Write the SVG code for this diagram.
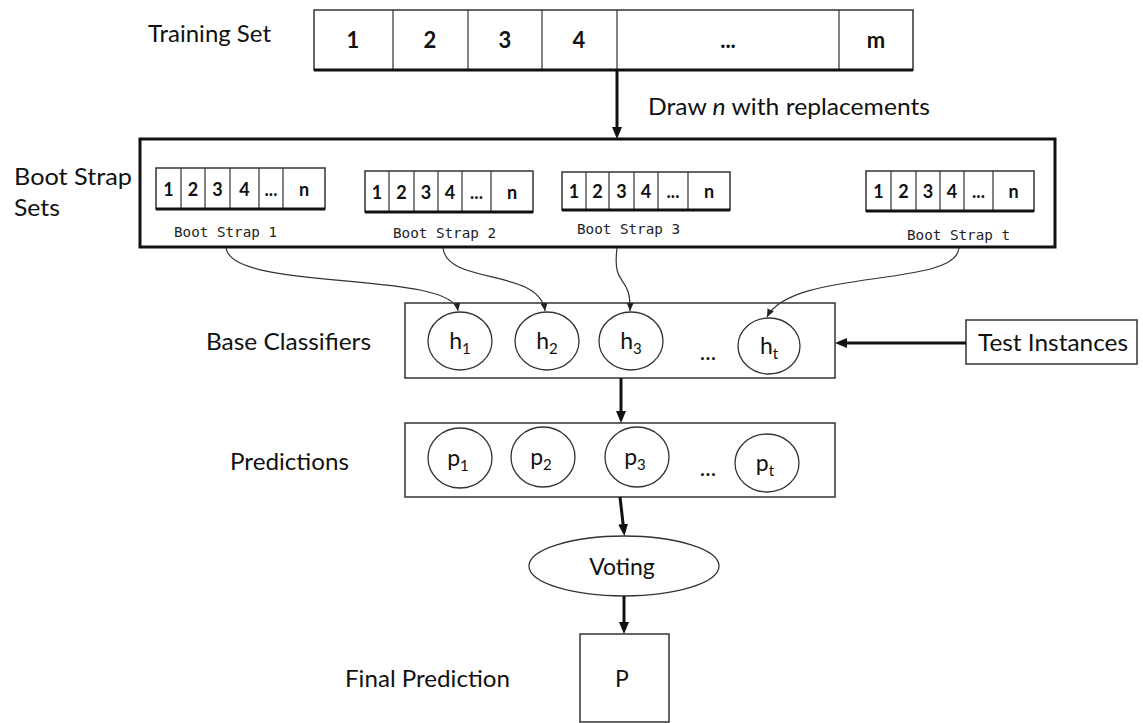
<svg xmlns="http://www.w3.org/2000/svg" width="1143" height="723" viewBox="0 0 1143 723">
  <defs>
    <style>
      .lbl{font-family:Lato,"Liberation Sans",sans-serif;font-size:23px;fill:#111}
      .num{font-family:Lato,"Liberation Sans",sans-serif;font-weight:bold;font-size:22px;fill:#111;text-anchor:middle}
      .snum{font-family:Lato,"Liberation Sans",sans-serif;font-weight:bold;font-size:18px;fill:#111;text-anchor:middle}
      .mono{font-family:"DejaVu Sans Mono","Liberation Mono",monospace;font-size:14px;fill:#222}
      .sym{font-family:Lato,"Liberation Sans",sans-serif;font-size:23px;fill:#111;text-anchor:middle}
      .box{fill:#fff;stroke:#333;stroke-width:1.5}
      .cell{stroke:#333;stroke-width:1.2}
      .edge{stroke:#111;stroke-width:3}
      .thick{stroke:#111;stroke-width:3;fill:none}
      .thin{stroke:#333;stroke-width:1.2;fill:none}
      .node{fill:#fff;stroke:#333;stroke-width:1.3}
    </style>
    <marker id="bigHead" markerUnits="userSpaceOnUse" markerWidth="12" markerHeight="10" refX="8" refY="5" orient="auto">
      <path d="M0,0 L12,5 L0,10 z" fill="#111"/>
    </marker>
    <marker id="smallHead" markerUnits="userSpaceOnUse" markerWidth="8" markerHeight="7" refX="8" refY="3.5" orient="auto">
      <path d="M0,0 L8,3.5 L0,7 z" fill="#222"/>
    </marker>
  </defs>

  <rect width="1143" height="723" fill="#fff"/>

  <!-- row labels -->
  <g id="labels">
    <text class="lbl" x="148" y="42" textLength="123" lengthAdjust="spacingAndGlyphs">Training Set</text>
    <text class="lbl" x="648" y="115" textLength="282" lengthAdjust="spacingAndGlyphs">Draw <tspan font-style="italic">n</tspan> with replacements</text>
    <text class="lbl" x="14" y="185" textLength="118" lengthAdjust="spacingAndGlyphs">Boot Strap</text>
    <text class="lbl" x="14" y="216" textLength="46" lengthAdjust="spacingAndGlyphs">Sets</text>
    <text class="lbl" x="206" y="350" textLength="165" lengthAdjust="spacingAndGlyphs">Base Classifiers</text>
    <text class="lbl" x="230" y="470" textLength="119" lengthAdjust="spacingAndGlyphs">Predictions</text>
    <text class="lbl" x="345" y="687" textLength="165" lengthAdjust="spacingAndGlyphs">Final Prediction</text>
  </g>

  <!-- training set strip -->
  <g id="training-set">
    <rect class="box" x="314" y="10" width="599" height="60"/>
    <path class="cell" d="M393,10V70 M468,10V70 M542,10V70 M617,10V70 M839,10V70"/>
    <line class="edge" x1="314" y1="70" x2="913" y2="70"/>
    <text class="num" x="353" y="48">1</text>
    <text class="num" x="430" y="48">2</text>
    <text class="num" x="505" y="48">3</text>
    <text class="num" x="579" y="48">4</text>
    <text class="num" x="728" y="48">...</text>
    <text class="num" x="876" y="48">m</text>
  </g>

  <!-- bootstrap container -->
  <g id="bootstrap-sets">
    <rect x="140" y="139" width="915" height="108" fill="#fff" stroke="#111" stroke-width="3"/>
  </g>

  <g id="bootstrap-1">
    <rect class="box" x="156" y="168" width="169" height="41"/>
    <path class="cell" d="M181,168V209 M205,168V209 M230,168V209 M259,168V209 M283,168V209"/>
    <line class="edge" x1="156" y1="209" x2="325" y2="209"/>
    <text class="snum" x="168.5" y="196">1</text>
    <text class="snum" x="193" y="196">2</text>
    <text class="snum" x="217.5" y="196">3</text>
    <text class="snum" x="244.5" y="196">4</text>
    <text class="snum" x="271" y="196">...</text>
    <text class="snum" x="304" y="196">n</text>
    <text class="mono" x="174" y="237" textLength="103" lengthAdjust="spacingAndGlyphs">Boot Strap 1</text>
  </g>

  <g id="bootstrap-2">
    <rect class="box" x="365" y="171" width="168" height="41"/>
    <path class="cell" d="M389,171V212 M414,171V212 M438,171V212 M462,171V212 M491,171V212"/>
    <line class="edge" x1="365" y1="212" x2="533" y2="212"/>
    <text class="snum" x="377" y="199">1</text>
    <text class="snum" x="401.5" y="199">2</text>
    <text class="snum" x="426" y="199">3</text>
    <text class="snum" x="450" y="199">4</text>
    <text class="snum" x="476.5" y="199">...</text>
    <text class="snum" x="512" y="199">n</text>
    <text class="mono" x="393" y="238" textLength="103" lengthAdjust="spacingAndGlyphs">Boot Strap 2</text>
  </g>

  <g id="bootstrap-3">
    <rect class="box" x="562" y="172" width="168" height="38"/>
    <path class="cell" d="M586,172V210 M609,172V210 M634,172V210 M658,172V210 M688,172V210"/>
    <line class="edge" x1="562" y1="210" x2="730" y2="210"/>
    <text class="snum" x="574" y="198">1</text>
    <text class="snum" x="597.5" y="198">2</text>
    <text class="snum" x="621.5" y="198">3</text>
    <text class="snum" x="646" y="198">4</text>
    <text class="snum" x="673" y="198">...</text>
    <text class="snum" x="709" y="198">n</text>
    <text class="mono" x="577" y="234" textLength="103" lengthAdjust="spacingAndGlyphs">Boot Strap 3</text>
  </g>

  <g id="bootstrap-t">
    <rect class="box" x="866" y="171" width="168" height="40"/>
    <path class="cell" d="M891,171V211 M916,171V211 M940,171V211 M964,171V211 M993,171V211"/>
    <line class="edge" x1="866" y1="211" x2="1034" y2="211"/>
    <text class="snum" x="878.5" y="198">1</text>
    <text class="snum" x="903.5" y="198">2</text>
    <text class="snum" x="928" y="198">3</text>
    <text class="snum" x="952" y="198">4</text>
    <text class="snum" x="978.5" y="198">...</text>
    <text class="snum" x="1013.5" y="198">n</text>
    <text class="mono" x="907" y="240" textLength="103" lengthAdjust="spacingAndGlyphs">Boot Strap t</text>
  </g>

  <!-- base classifiers -->
  <g id="base-classifiers">
    <rect class="box" x="405" y="303" width="430" height="75"/>
  </g>
  <g id="h1">
    <ellipse class="node" cx="460" cy="341" rx="32" ry="29"/>
    <text class="sym" x="460" y="349">h<tspan font-size="15" dy="5">1</tspan></text>
  </g>
  <g id="h2">
    <ellipse class="node" cx="547" cy="341" rx="32" ry="29"/>
    <text class="sym" x="547" y="349">h<tspan font-size="15" dy="5">2</tspan></text>
  </g>
  <g id="h3">
    <ellipse class="node" cx="631" cy="341" rx="32" ry="29"/>
    <text class="sym" x="631" y="349">h<tspan font-size="15" dy="5">3</tspan></text>
  </g>
  <text class="sym" x="708" y="360">...</text>
  <g id="ht">
    <ellipse class="node" cx="769" cy="346" rx="31" ry="28"/>
    <text class="sym" x="769" y="354">h<tspan font-size="15" dy="5">t</tspan></text>
  </g>

  <g id="test-instances">
    <rect class="box" x="966" y="320" width="171" height="44"/>
    <text class="lbl" x="978" y="351" textLength="150" lengthAdjust="spacingAndGlyphs">Test Instances</text>
  </g>

  <!-- predictions -->
  <g id="predictions">
    <rect class="box" x="405" y="423" width="430" height="74"/>
  </g>
  <g id="p1">
    <ellipse class="node" cx="460" cy="458" rx="32" ry="30"/>
    <text class="sym" x="458" y="466">p<tspan font-size="15" dy="5">1</tspan></text>
  </g>
  <g id="p2">
    <ellipse class="node" cx="543" cy="457" rx="32" ry="30"/>
    <text class="sym" x="541" y="465">p<tspan font-size="15" dy="5">2</tspan></text>
  </g>
  <g id="p3">
    <ellipse class="node" cx="637" cy="457" rx="32" ry="30"/>
    <text class="sym" x="635" y="465">p<tspan font-size="15" dy="5">3</tspan></text>
  </g>
  <text class="sym" x="708" y="476">...</text>
  <g id="pt">
    <ellipse class="node" cx="767" cy="463" rx="32" ry="29"/>
    <text class="sym" x="765" y="471">p<tspan font-size="15" dy="5">t</tspan></text>
  </g>

  <g id="voting">
    <ellipse class="node" cx="624" cy="566" rx="95" ry="30"/>
    <text class="sym" x="622" y="575">Voting</text>
  </g>

  <g id="final-prediction">
    <rect class="box" x="580" y="634" width="89" height="88"/>
    <text class="sym" x="622" y="687">P</text>
  </g>

  <!-- connectors -->
  <g id="connectors">
    <line class="thick" x1="617" y1="70" x2="617" y2="135" marker-end="url(#bigHead)"/>
    <path class="thin" d="M226,248 C232,292 452,270 458,311" marker-end="url(#smallHead)"/>
    <path class="thin" d="M443,248 C447,285 540,268 545,311" marker-end="url(#smallHead)"/>
    <path class="thin" d="M617,248 C612,290 631,272 630,311" marker-end="url(#smallHead)"/>
    <path class="thin" d="M959,248 C956,288 792,268 767,317" marker-end="url(#smallHead)"/>
    <line class="thick" x1="966" y1="343" x2="839" y2="343" marker-end="url(#bigHead)"/>
    <line class="thick" x1="621" y1="378" x2="621" y2="419" marker-end="url(#bigHead)"/>
    <line class="thick" x1="620" y1="497" x2="624" y2="532" marker-end="url(#bigHead)"/>
    <line class="thick" x1="624" y1="596" x2="624" y2="630" marker-end="url(#bigHead)"/>
  </g>
</svg>
